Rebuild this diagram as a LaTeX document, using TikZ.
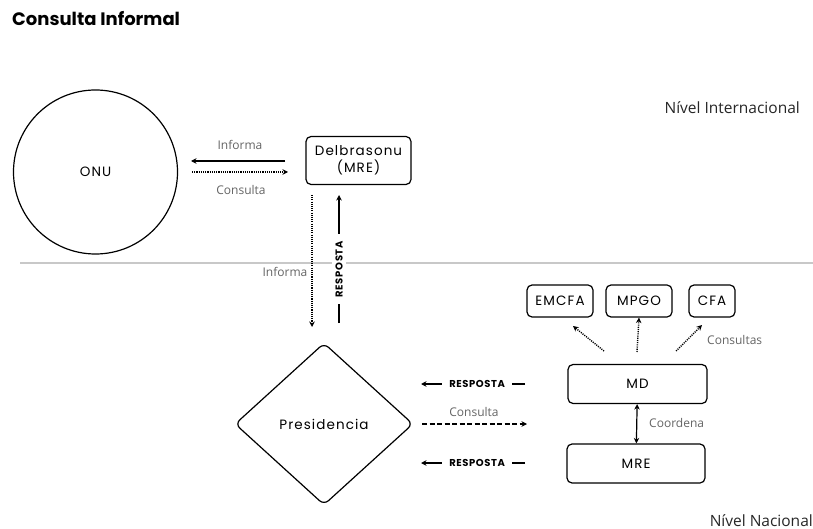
\documentclass[tikz,border=0pt]{standalone}
\usepackage{fontspec}
\setmainfont{Open Sans}
\newfontfamily\popp[LetterSpace=8]{Poppins}
\newfontfamily\poppb[LetterSpace=6]{Poppins}
\newfontfamily\titlefont{Poppins}
\usetikzlibrary{arrows.meta,shapes.geometric}
\definecolor{labelgray}{RGB}{100,100,100}
\definecolor{linegray}{RGB}{200,200,200}
\begin{document}
\begin{tikzpicture}[x=1pt,y=-1pt,
  box/.style={draw=black,line width=1.2pt,rounded corners=5pt,fill=white,font=\popp\fontsize{13.5}{17}\selectfont,align=center,inner sep=0pt},
  lbl/.style={font=\fontsize{12}{14}\selectfont,text=labelgray,inner sep=1pt},
  resp/.style={font=\poppb\bfseries\fontsize{10}{11}\selectfont,fill=white,inner xsep=7pt,inner ysep=3pt},
  arr/.style={line width=1.2pt,-{Stealth[length=5.5pt,width=5.5pt]}},
  darr/.style={line width=1.2pt,{Stealth[length=5.5pt,width=5.5pt]}-{Stealth[length=5.5pt,width=5.5pt]}},
  dotarr/.style={line width=1.4pt,dash pattern=on 1.1pt off 1.1pt,-{Stealth[length=5.5pt,width=5.5pt]}},
  dasharr/.style={line width=1.2pt,dash pattern=on 5pt off 2.5pt,-{Stealth[length=5.5pt,width=5.5pt]}}
]
\useasboundingbox (0,0) rectangle (813,529);
% title
\node[anchor=west,font=\titlefont\bfseries\fontsize{18}{21}\selectfont,inner sep=0pt] (title) at (12,19) {Consulta Informal};
% level labels
\node[anchor=east,font=\fontsize{15.5}{18}\selectfont,text=black!85,inner sep=0pt] (nint) at (800,108) {Nível Internacional};
\node[anchor=east,font=\fontsize{15.5}{18}\selectfont,text=black!85,inner sep=0pt] (nnac) at (813,521) {Nível Nacional};
% separator
\coordinate (sepL) at (20,263);
\coordinate (sepR) at (813,263);
\draw[linegray,line width=1.5pt] (sepL) -- (sepR);
% ONU
\node[circle,draw=black,line width=1.2pt,minimum size=164pt,inner sep=0pt,font=\popp\fontsize{13.5}{17}\selectfont] (onu) at (95.5,172) {ONU};
% Delbrasonu
\node[box,minimum width=105pt,minimum height=48pt] (del) at (358.5,160.5) {Delbrasonu\\(MRE)};
% ONU <-> Delbrasonu
\coordinate (inA) at (285,161);
\coordinate (inB) at (191,161);
\coordinate (coA) at (192,172);
\coordinate (coB) at (288,172);
\draw[arr] (inA) -- (inB);
\draw[dotarr] (coA) -- (coB);
\node[lbl] (linf) at (240,145) {Informa};
\node[lbl] (lcon) at (241,190) {Consulta};
% vertical between Delbrasonu and Presidencia
\node[diamond,draw=black,line width=1.2pt,rounded corners=6pt,minimum width=178pt,minimum height=162pt,inner sep=0pt,font=\popp\fontsize{13.5}{17}\selectfont] (pres) at (324,424) {Presidencia};
\coordinate (vdA) at (312,195);
\coordinate (vdB) at (312,327);
\draw[dotarr] (vdA) -- (vdB);
\node[lbl] (linf2) at (285,272) {Informa};
\coordinate (vuA) at (339,323);
\coordinate (vuB) at (339,195);
\draw[arr] (vuA) -- node[resp,rotate=90,pos=0.42] (r1) {RESPOSTA} (vuB);
% MD and MRE
\node[box,minimum width=139pt,minimum height=39pt] (md) at (637.5,384) {MD};
\node[box,minimum width=138pt,minimum height=39pt] (mre) at (636,463.5) {MRE};
\draw[darr] (md) -- (mre);
\node[lbl,anchor=west] (lcoord) at (648,423) {Coordena};
% Presidencia <-> MD/MRE
\coordinate (r2A) at (525,384);
\coordinate (r2B) at (421,384);
\draw[arr] (r2A) -- node[resp,pos=0.46] (r2) {RESPOSTA} (r2B);
\coordinate (r3A) at (525,463);
\coordinate (r3B) at (421,463);
\draw[arr] (r3A) -- node[resp,pos=0.46] (r3) {RESPOSTA} (r3B);
\coordinate (csA) at (422,424);
\coordinate (csB) at (527,424);
\draw[dasharr] (csA) -- (csB);
\node[lbl] (lcs) at (474,412) {Consulta};
% top boxes
\node[box,minimum width=66pt,minimum height=32pt] (emc) at (560,301) {EMCFA};
\node[box,minimum width=66pt,minimum height=32pt] (mpg) at (639,301) {MPGO};
\node[box,minimum width=46pt,minimum height=32pt] (cfa) at (712,301) {CFA};
\coordinate (d1) at (604,351);
\coordinate (d2) at (637,352);
\coordinate (d3) at (676,351);
\coordinate (e1) at (573,326);
\coordinate (e3) at (702,325);
\draw[dotarr] (d1) -- (e1);
\draw[dotarr] (d2) -- (mpg.south);
\draw[dotarr] (d3) -- (e3);
\node[lbl,anchor=west] (lcons) at (706,340) {Consultas};
\end{tikzpicture}
\end{document}
